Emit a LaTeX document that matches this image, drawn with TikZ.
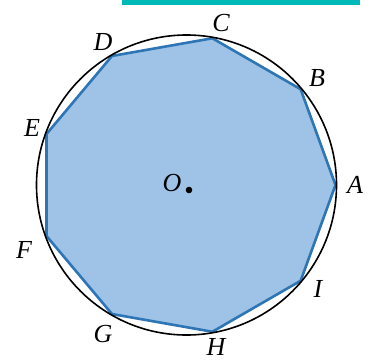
\documentclass[tikz,border=0pt]{standalone}
\usepackage{fontspec}
\setmainfont{Liberation Serif}
\usetikzlibrary{calc}
\definecolor{polyfill}{RGB}{158,195,230}
\definecolor{polyline}{RGB}{46,117,182}
\definecolor{barteal}{RGB}{0,185,185}
\begin{document}
\begin{tikzpicture}[x=1pt,y=1pt,
  lbl/.style={font=\fontsize{26}{26}\selectfont\itshape, inner sep=0pt}]
\useasboundingbox (0,0) rectangle (374,360);
\fill[barteal] (122,355.5) rectangle (360,360);
\coordinate (O) at (186.5,175);
\foreach \n/\a in {A/0,B/40,C/80,D/120,E/160,F/200,G/240,H/280,I/320}
  \coordinate (\n) at ($(O)+(\a:149)$);
\filldraw[fill=polyfill, draw=polyline, line width=2.6pt, line join=miter]
  (A) -- (B) -- (C) -- (D) -- (E) -- (F) -- (G) -- (H) -- (I) -- cycle;
\draw[black, line width=1.6pt] (O) circle (150);
\fill (189,170) circle (3.3);
\node[lbl] (lA) at (355,175) {A};
\node[lbl] (lB) at (317,282) {B};
\node[lbl] (lC) at (221,337) {C};
\node[lbl] (lD) at (103,318) {D};
\node[lbl] (lE) at (32,232) {E};
\node[lbl] (lF) at (24,110) {F};
\node[lbl] (lG) at (103,26) {G};
\node[lbl] (lH) at (216,13) {H};
\node[lbl] (lI) at (318,71) {I};
\node[lbl] (lO) at (172,177) {O};
\end{tikzpicture}
\end{document}
